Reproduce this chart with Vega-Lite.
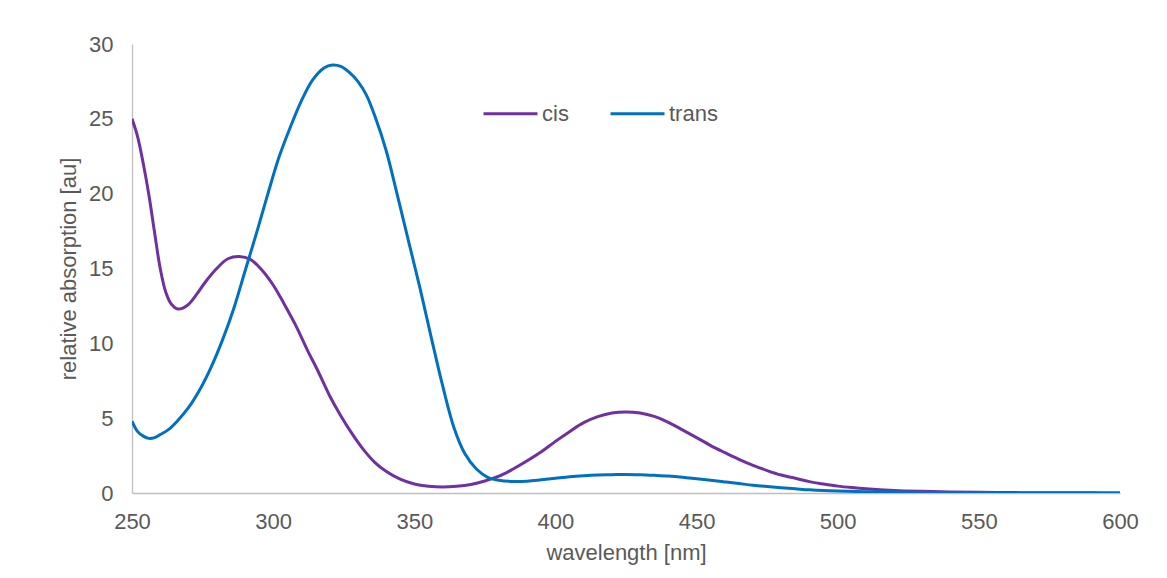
{
  "$schema": "https://vega.github.io/schema/vega-lite/v6.json",
  "width": 988,
  "height": 449,
  "autosize": {"type": "none"},
  "padding": {"left": 132, "top": 44, "right": 47, "bottom": 85},
  "background": "white",
  "config": {
    "view": {"stroke": null},
    "font": "Liberation Sans",
    "axis": {
      "domainColor": "#bfbfbf",
      "domainWidth": 1.3,
      "ticks": false,
      "grid": false,
      "labelColor": "#595959",
      "labelFontSize": 22,
      "labelFont": "Liberation Sans",
      "titleColor": "#595959",
      "titleFontSize": 22,
      "titleFont": "Liberation Sans",
      "titleFontWeight": "normal"
    },
    "legend": {
      "labelColor": "#595959",
      "labelFontSize": 22,
      "labelFont": "Liberation Sans"
    }
  },
  "data": {
    "values": [
      {"wavelength": 250, "absorption": 25.0, "form": "cis"},
      {"wavelength": 252, "absorption": 23.8, "form": "cis"},
      {"wavelength": 254, "absorption": 22.0, "form": "cis"},
      {"wavelength": 256, "absorption": 19.9, "form": "cis"},
      {"wavelength": 258, "absorption": 17.4, "form": "cis"},
      {"wavelength": 260, "absorption": 15.0, "form": "cis"},
      {"wavelength": 262, "absorption": 13.4, "form": "cis"},
      {"wavelength": 264, "absorption": 12.6, "form": "cis"},
      {"wavelength": 266, "absorption": 12.3, "form": "cis"},
      {"wavelength": 268, "absorption": 12.35, "form": "cis"},
      {"wavelength": 270, "absorption": 12.6, "form": "cis"},
      {"wavelength": 273, "absorption": 13.3, "form": "cis"},
      {"wavelength": 276, "absorption": 14.1, "form": "cis"},
      {"wavelength": 280, "absorption": 15.0, "form": "cis"},
      {"wavelength": 284, "absorption": 15.65, "form": "cis"},
      {"wavelength": 288, "absorption": 15.8, "form": "cis"},
      {"wavelength": 292, "absorption": 15.6, "form": "cis"},
      {"wavelength": 296, "absorption": 14.9, "form": "cis"},
      {"wavelength": 300, "absorption": 13.9, "form": "cis"},
      {"wavelength": 304, "absorption": 12.6, "form": "cis"},
      {"wavelength": 308, "absorption": 11.2, "form": "cis"},
      {"wavelength": 312, "absorption": 9.6, "form": "cis"},
      {"wavelength": 316, "absorption": 8.1, "form": "cis"},
      {"wavelength": 320, "absorption": 6.5, "form": "cis"},
      {"wavelength": 324, "absorption": 5.15, "form": "cis"},
      {"wavelength": 328, "absorption": 3.95, "form": "cis"},
      {"wavelength": 332, "absorption": 2.9, "form": "cis"},
      {"wavelength": 336, "absorption": 2.05, "form": "cis"},
      {"wavelength": 340, "absorption": 1.45, "form": "cis"},
      {"wavelength": 345, "absorption": 0.92, "form": "cis"},
      {"wavelength": 350, "absorption": 0.6, "form": "cis"},
      {"wavelength": 355, "absorption": 0.45, "form": "cis"},
      {"wavelength": 360, "absorption": 0.4, "form": "cis"},
      {"wavelength": 365, "absorption": 0.45, "form": "cis"},
      {"wavelength": 370, "absorption": 0.57, "form": "cis"},
      {"wavelength": 375, "absorption": 0.8, "form": "cis"},
      {"wavelength": 380, "absorption": 1.12, "form": "cis"},
      {"wavelength": 385, "absorption": 1.6, "form": "cis"},
      {"wavelength": 390, "absorption": 2.15, "form": "cis"},
      {"wavelength": 395, "absorption": 2.75, "form": "cis"},
      {"wavelength": 400, "absorption": 3.45, "form": "cis"},
      {"wavelength": 405, "absorption": 4.1, "form": "cis"},
      {"wavelength": 410, "absorption": 4.7, "form": "cis"},
      {"wavelength": 415, "absorption": 5.1, "form": "cis"},
      {"wavelength": 420, "absorption": 5.35, "form": "cis"},
      {"wavelength": 425, "absorption": 5.42, "form": "cis"},
      {"wavelength": 430, "absorption": 5.35, "form": "cis"},
      {"wavelength": 435, "absorption": 5.12, "form": "cis"},
      {"wavelength": 440, "absorption": 4.72, "form": "cis"},
      {"wavelength": 445, "absorption": 4.22, "form": "cis"},
      {"wavelength": 450, "absorption": 3.7, "form": "cis"},
      {"wavelength": 455, "absorption": 3.17, "form": "cis"},
      {"wavelength": 460, "absorption": 2.7, "form": "cis"},
      {"wavelength": 465, "absorption": 2.25, "form": "cis"},
      {"wavelength": 470, "absorption": 1.85, "form": "cis"},
      {"wavelength": 475, "absorption": 1.5, "form": "cis"},
      {"wavelength": 480, "absorption": 1.2, "form": "cis"},
      {"wavelength": 485, "absorption": 0.98, "form": "cis"},
      {"wavelength": 490, "absorption": 0.76, "form": "cis"},
      {"wavelength": 495, "absorption": 0.6, "form": "cis"},
      {"wavelength": 500, "absorption": 0.46, "form": "cis"},
      {"wavelength": 505, "absorption": 0.36, "form": "cis"},
      {"wavelength": 510, "absorption": 0.28, "form": "cis"},
      {"wavelength": 520, "absorption": 0.17, "form": "cis"},
      {"wavelength": 530, "absorption": 0.11, "form": "cis"},
      {"wavelength": 540, "absorption": 0.07, "form": "cis"},
      {"wavelength": 550, "absorption": 0.05, "form": "cis"},
      {"wavelength": 560, "absorption": 0.03, "form": "cis"},
      {"wavelength": 570, "absorption": 0.02, "form": "cis"},
      {"wavelength": 580, "absorption": 0.01, "form": "cis"},
      {"wavelength": 590, "absorption": 0.01, "form": "cis"},
      {"wavelength": 600, "absorption": 0.0, "form": "cis"},
      {"wavelength": 250, "absorption": 4.8, "form": "trans"},
      {"wavelength": 252, "absorption": 4.1, "form": "trans"},
      {"wavelength": 254, "absorption": 3.8, "form": "trans"},
      {"wavelength": 256, "absorption": 3.65, "form": "trans"},
      {"wavelength": 258, "absorption": 3.7, "form": "trans"},
      {"wavelength": 260, "absorption": 3.9, "form": "trans"},
      {"wavelength": 263, "absorption": 4.25, "form": "trans"},
      {"wavelength": 266, "absorption": 4.8, "form": "trans"},
      {"wavelength": 270, "absorption": 5.7, "form": "trans"},
      {"wavelength": 274, "absorption": 6.9, "form": "trans"},
      {"wavelength": 278, "absorption": 8.4, "form": "trans"},
      {"wavelength": 282, "absorption": 10.2, "form": "trans"},
      {"wavelength": 286, "absorption": 12.3, "form": "trans"},
      {"wavelength": 290, "absorption": 14.8, "form": "trans"},
      {"wavelength": 294, "absorption": 17.3, "form": "trans"},
      {"wavelength": 298, "absorption": 19.9, "form": "trans"},
      {"wavelength": 302, "absorption": 22.4, "form": "trans"},
      {"wavelength": 306, "absorption": 24.4, "form": "trans"},
      {"wavelength": 310, "absorption": 26.2, "form": "trans"},
      {"wavelength": 314, "absorption": 27.6, "form": "trans"},
      {"wavelength": 318, "absorption": 28.4, "form": "trans"},
      {"wavelength": 321, "absorption": 28.6, "form": "trans"},
      {"wavelength": 324, "absorption": 28.5, "form": "trans"},
      {"wavelength": 327, "absorption": 28.1, "form": "trans"},
      {"wavelength": 330, "absorption": 27.5, "form": "trans"},
      {"wavelength": 333, "absorption": 26.6, "form": "trans"},
      {"wavelength": 336, "absorption": 25.2, "form": "trans"},
      {"wavelength": 340, "absorption": 22.9, "form": "trans"},
      {"wavelength": 344, "absorption": 19.9, "form": "trans"},
      {"wavelength": 348, "absorption": 16.8, "form": "trans"},
      {"wavelength": 352, "absorption": 13.7, "form": "trans"},
      {"wavelength": 356, "absorption": 10.4, "form": "trans"},
      {"wavelength": 360, "absorption": 7.2, "form": "trans"},
      {"wavelength": 364, "absorption": 4.4, "form": "trans"},
      {"wavelength": 368, "absorption": 2.6, "form": "trans"},
      {"wavelength": 372, "absorption": 1.6, "form": "trans"},
      {"wavelength": 376, "absorption": 1.05, "form": "trans"},
      {"wavelength": 380, "absorption": 0.85, "form": "trans"},
      {"wavelength": 385, "absorption": 0.77, "form": "trans"},
      {"wavelength": 390, "absorption": 0.79, "form": "trans"},
      {"wavelength": 395, "absorption": 0.88, "form": "trans"},
      {"wavelength": 400, "absorption": 0.98, "form": "trans"},
      {"wavelength": 405, "absorption": 1.08, "form": "trans"},
      {"wavelength": 410, "absorption": 1.15, "form": "trans"},
      {"wavelength": 415, "absorption": 1.2, "form": "trans"},
      {"wavelength": 420, "absorption": 1.22, "form": "trans"},
      {"wavelength": 425, "absorption": 1.24, "form": "trans"},
      {"wavelength": 430, "absorption": 1.22, "form": "trans"},
      {"wavelength": 435, "absorption": 1.18, "form": "trans"},
      {"wavelength": 440, "absorption": 1.13, "form": "trans"},
      {"wavelength": 445, "absorption": 1.05, "form": "trans"},
      {"wavelength": 450, "absorption": 0.95, "form": "trans"},
      {"wavelength": 455, "absorption": 0.85, "form": "trans"},
      {"wavelength": 460, "absorption": 0.74, "form": "trans"},
      {"wavelength": 465, "absorption": 0.63, "form": "trans"},
      {"wavelength": 470, "absorption": 0.52, "form": "trans"},
      {"wavelength": 475, "absorption": 0.43, "form": "trans"},
      {"wavelength": 480, "absorption": 0.35, "form": "trans"},
      {"wavelength": 485, "absorption": 0.28, "form": "trans"},
      {"wavelength": 490, "absorption": 0.21, "form": "trans"},
      {"wavelength": 495, "absorption": 0.16, "form": "trans"},
      {"wavelength": 500, "absorption": 0.13, "form": "trans"},
      {"wavelength": 510, "absorption": 0.09, "form": "trans"},
      {"wavelength": 520, "absorption": 0.06, "form": "trans"},
      {"wavelength": 530, "absorption": 0.04, "form": "trans"},
      {"wavelength": 540, "absorption": 0.03, "form": "trans"},
      {"wavelength": 550, "absorption": 0.02, "form": "trans"},
      {"wavelength": 560, "absorption": 0.01, "form": "trans"},
      {"wavelength": 580, "absorption": 0.0, "form": "trans"},
      {"wavelength": 600, "absorption": 0.0, "form": "trans"}
    ]
  },
  "mark": {"type": "line", "interpolate": "catmull-rom", "strokeWidth": 3, "clip": true},
  "encoding": {
    "x": {
      "field": "wavelength",
      "type": "quantitative",
      "scale": {"domain": [250, 600], "nice": false, "zero": false},
      "axis": {
        "title": "wavelength [nm]",
        "values": [250, 300, 350, 400, 450, 500, 550, 600],
        "labelPadding": 18,
        "titlePadding": 10,
        "labelFlush": false
      }
    },
    "y": {
      "field": "absorption",
      "type": "quantitative",
      "scale": {"domain": [0, 30], "nice": false},
      "axis": {
        "title": "relative absorption [au]",
        "values": [0, 5, 10, 15, 20, 25, 30],
        "labelPadding": 19,
        "titlePadding": 8
      }
    },
    "color": {
      "field": "form",
      "type": "nominal",
      "scale": {"domain": ["cis", "trans"], "range": ["#7030A0", "#0070C0"]},
      "legend": {
        "title": null,
        "orient": "none",
        "direction": "horizontal",
        "legendX": 350,
        "legendY": 41,
        "padding": 0,
        "symbolType": "stroke",
        "symbolSize": 2916,
        "symbolStrokeWidth": 3,
        "labelOffset": 3,
        "columnPadding": 35
      }
    }
  }
}
